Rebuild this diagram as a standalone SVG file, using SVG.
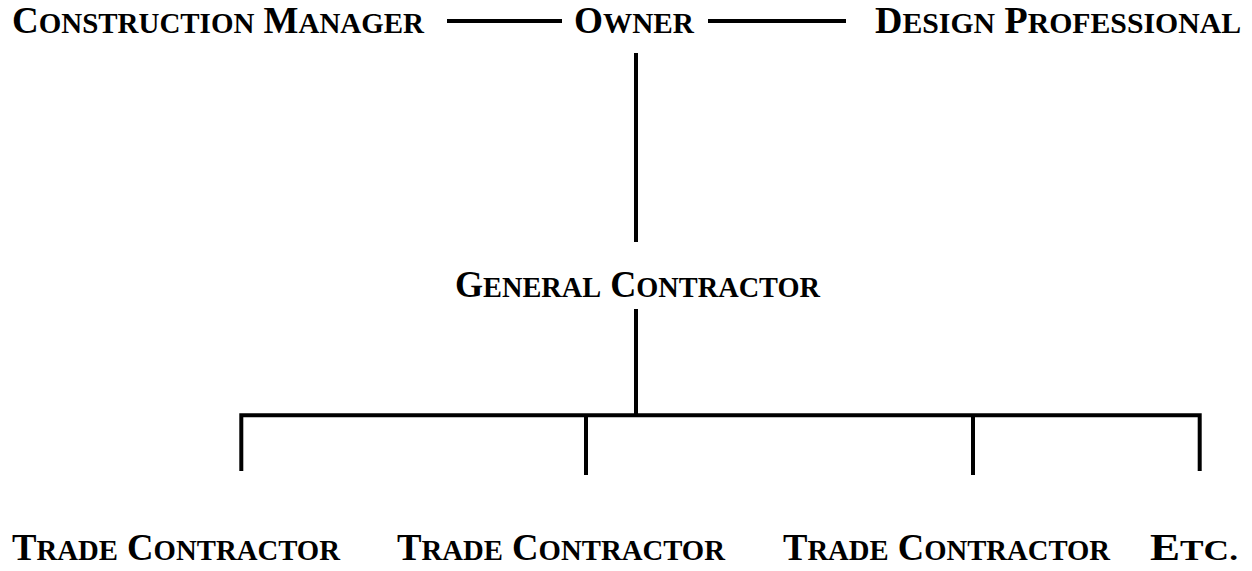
<svg xmlns="http://www.w3.org/2000/svg" width="1252" height="571" viewBox="0 0 1252 571">
  <style>
    .lbl { font-family: "Liberation Serif", "Times New Roman", serif; font-weight: bold; font-size: 37px; fill: #000; }
    .sc { font-size: 29px; }
    .conn { stroke: #000; stroke-width: 4; fill: none; stroke-linecap: butt; stroke-linejoin: miter; }
  </style>
  <rect width="1252" height="571" fill="#fff"/>
  <g id="connectors">
    <line class="conn" x1="447" y1="21" x2="562" y2="21"/>
    <line class="conn" x1="708" y1="21" x2="846" y2="21"/>
    <line class="conn" x1="636" y1="53" x2="636" y2="242"/>
    <line class="conn" x1="636" y1="309" x2="636" y2="415"/>
    <path class="conn" d="M241.3 471 V415.3 H1199.7 V471"/>
    <line class="conn" x1="586" y1="415" x2="586" y2="475"/>
    <line class="conn" x1="973" y1="415" x2="973" y2="475"/>
  </g>
  <g id="construction-manager">
    <text class="lbl" x="12" y="33" textLength="412" lengthAdjust="spacingAndGlyphs">C<tspan class="sc">ONSTRUCTION</tspan> M<tspan class="sc">ANAGER</tspan></text>
  </g>
  <g id="owner">
    <text class="lbl" x="574" y="33" textLength="120" lengthAdjust="spacingAndGlyphs">O<tspan class="sc">WNER</tspan></text>
  </g>
  <g id="design-professional">
    <text class="lbl" x="875" y="33" textLength="366" lengthAdjust="spacingAndGlyphs">D<tspan class="sc">ESIGN</tspan> P<tspan class="sc">ROFESSIONAL</tspan></text>
  </g>
  <g id="general-contractor">
    <text class="lbl" x="455" y="297" textLength="365" lengthAdjust="spacingAndGlyphs">G<tspan class="sc">ENERAL</tspan> C<tspan class="sc">ONTRACTOR</tspan></text>
  </g>
  <g id="trade-contractor-1">
    <text class="lbl" x="12" y="560" textLength="328" lengthAdjust="spacingAndGlyphs">T<tspan class="sc">RADE</tspan> C<tspan class="sc">ONTRACTOR</tspan></text>
  </g>
  <g id="trade-contractor-2">
    <text class="lbl" x="397" y="560" textLength="328" lengthAdjust="spacingAndGlyphs">T<tspan class="sc">RADE</tspan> C<tspan class="sc">ONTRACTOR</tspan></text>
  </g>
  <g id="trade-contractor-3">
    <text class="lbl" x="783" y="560" textLength="327" lengthAdjust="spacingAndGlyphs">T<tspan class="sc">RADE</tspan> C<tspan class="sc">ONTRACTOR</tspan></text>
  </g>
  <g id="etc">
    <text class="lbl" x="1150" y="560" textLength="88" lengthAdjust="spacingAndGlyphs">E<tspan class="sc">TC.</tspan></text>
  </g>
</svg>
